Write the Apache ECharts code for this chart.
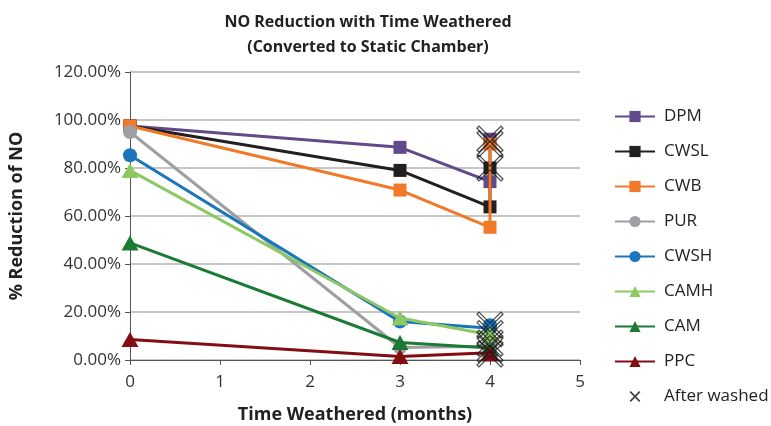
<!DOCTYPE html>
<html>
<head>
<meta charset="utf-8">
<script src="https://cdn.jsdelivr.net/npm/echarts@6/dist/echarts.min.js"></script>
<style>
  html, body { margin: 0; padding: 0; background: #fff; }
  #main { width: 771px; height: 426px; }
</style>
</head>
<body>
<div id="main"></div>
<script>
// months weathered for the three measurements
const months = [0, 3, 4];
const names = ['DPM', 'CWSL', 'CWB', 'PUR', 'CWSH', 'CAMH', 'CAM', 'PPC'];
// % reduction of NO at 0, 3, 4 months
const dpm = [97.5, 88.6, 74.3];
const cwsl = [97.5, 79.0, 63.8];
const cwb = [97.5, 70.8, 55.3];
const pur = [95.0, 5.2, 5.7];
const cwsh = [85.3, 16.0, 13.2];
const camh = [79.0, 17.5, 10.5];
const cam = [48.8, 7.3, 5.0];
const ppc = [8.5, 1.5, 3.0];
// after washed, at 4 months (same order as names)
const afterWashed = [92.0, 80.0, 90.0, 7.0, 14.5, 11.0, 4.5, 2.5];
const yTicks = [0, 20, 40, 60, 80, 100, 120];

const values = [dpm, cwsl, cwb, pur, cwsh, camh, cam, ppc];
const colors = ['#604a8b', '#231f20', '#f07a28', '#9d9fa2', '#1b75bc', '#8cc963', '#1b7a36', '#820e14'];
const symbols = ['rect', 'rect', 'rect', 'circle', 'circle', 'triangle', 'triangle', 'triangle'];
const sizes = [13, 13, 13, 14, 14, [17, 15], [17, 15], [17, 15]];

const xPath = 'path://M0,1.5L1.5,0L10,8.5L18.5,0L20,1.5L11.5,10L20,18.5L18.5,20L10,11.5L1.5,20L0,18.5L8.5,10Z';
// smaller x for the legend: empty box around a cross
const xLegend = 'path://M-3,-3L-3,-2.9L-2.9,-3ZM23,23L23,22.9L22.9,23ZM0,2.2L2.2,0L10,7.8L17.8,0L20,2.2L12.2,10L20,17.8L17.8,20L10,12.2L2.2,20L0,17.8L7.8,10Z';

const chart = echarts.init(document.getElementById('main'));

const series = names.map((n, i) => {
  const pts = months.map((m, j) => [m, values[i][j]]);
  pts.push([4, afterWashed[i]]); // after washed point, joined by line
  return {
    name: n,
    type: 'line',
    data: pts,
    symbol: symbols[i],
    symbolSize: sizes[i],
    showAllSymbol: true,
    lineStyle: { width: 3, color: colors[i] },
    itemStyle: { color: colors[i] },
    animation: false,
    z: 2 + i
  };
});

series.push({
  name: 'After washed',
  type: 'scatter',
  data: afterWashed.map(v => [4, v]),
  symbol: xPath,
  symbolSize: 26,
  itemStyle: { color: 'rgba(255,255,255,0)', borderColor: '#1a1a1a', borderWidth: 1.2 },
  animation: false,
  z: 20
});

const legendData = names.map(n => ({ name: n }));
legendData.push({
  name: 'After washed',
  icon: xLegend,
  itemStyle: { color: '#111', borderWidth: 0 }
});

const option = {
  backgroundColor: '#fff',
  textStyle: { fontFamily: 'Open Sans' },
  title: {
    text: 'NO Reduction with Time Weathered\n(Converted to Static Chamber)',
    left: 363,
    top: 5,
    textAlign: 'center',
    textStyle: { fontSize: 16, fontWeight: 'bold', color: '#222', lineHeight: 25, fontFamily: 'Open Sans' }
  },
  grid: { left: 130, right: 191, top: 72, bottom: 66, outerBoundsMode: 'none' },
  legend: {
    orient: 'vertical',
    left: 614,
    top: 108,
    height: 318,
    padding: 0,
    itemWidth: 40,
    itemHeight: 14,
    itemGap: 18,
    symbolKeepAspect: true,
    data: legendData,
    textStyle: { fontSize: 17, color: '#222', fontFamily: 'Open Sans', padding: [0, 0, 0, 4] }
  },
  xAxis: {
    type: 'value',
    min: 0,
    max: 5,
    interval: 1,
    name: 'Time Weathered (months)',
    nameLocation: 'middle',
    nameGap: 46,
    nameTextStyle: { fontSize: 18, fontWeight: 'bold', color: '#222' },
    axisLine: { lineStyle: { color: '#555', width: 1 } },
    axisTick: { show: true, length: 5, lineStyle: { color: '#555' } },
    axisLabel: { fontSize: 17, color: '#333', margin: 14 },
    splitLine: { show: false }
  },
  yAxis: {
    type: 'value',
    min: yTicks[0],
    max: yTicks[yTicks.length - 1],
    interval: 20,
    name: '% Reduction of NO',
    nameLocation: 'middle',
    nameGap: 104,
    nameTextStyle: { fontSize: 18, fontWeight: 'bold', color: '#222' },
    axisLine: { show: true, lineStyle: { color: '#555', width: 1 } },
    axisTick: { show: true, length: 5, lineStyle: { color: '#555' } },
    axisLabel: { fontSize: 17, color: '#333', margin: 9, formatter: v => v.toFixed(2) + '%' },
    splitLine: { lineStyle: { color: '#b3b3b3', width: 1.5 } }
  },
  series: series
};

chart.setOption(option);
</script>
</body>
</html>
